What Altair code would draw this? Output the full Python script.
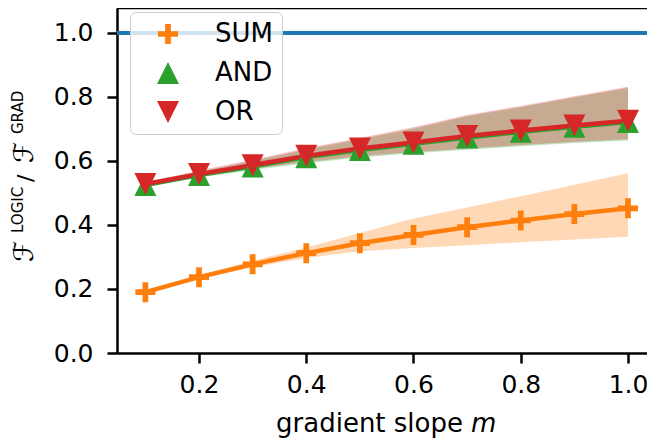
import altair as alt
import pandas as pd

# ---- data ----
x_vals = [0.1, 0.2, 0.3, 0.4, 0.5, 0.6, 0.7, 0.8, 0.9, 1.0]

sum_mean = [0.190, 0.237, 0.277, 0.312, 0.343, 0.369, 0.393, 0.414, 0.434, 0.452]
sum_lo   = [0.187, 0.232, 0.268, 0.297, 0.318, 0.328, 0.337, 0.346, 0.355, 0.363]
sum_hi   = [0.193, 0.243, 0.288, 0.330, 0.375, 0.420, 0.455, 0.490, 0.526, 0.562]

and_mean = [0.525, 0.556, 0.583, 0.612, 0.634, 0.654, 0.673, 0.691, 0.707, 0.722]
and_lo   = [0.521, 0.549, 0.572, 0.593, 0.611, 0.624, 0.635, 0.646, 0.656, 0.664]
and_hi   = [0.529, 0.566, 0.600, 0.636, 0.668, 0.701, 0.740, 0.768, 0.798, 0.828]

or_mean  = [0.528, 0.559, 0.587, 0.616, 0.639, 0.658, 0.678, 0.695, 0.711, 0.726]
or_lo    = [0.524, 0.552, 0.575, 0.597, 0.615, 0.628, 0.639, 0.650, 0.660, 0.668]
or_hi    = [0.533, 0.570, 0.604, 0.640, 0.672, 0.705, 0.744, 0.772, 0.802, 0.832]

reference_level = [1.0]

series_names = ["SUM", "AND", "OR"]
series_colors = ["#ff7f0e", "#2ca02c", "#d62728"]
x_ticks = [0.2, 0.4, 0.6, 0.8, 1.0]
y_ticks = [0.0, 0.2, 0.4, 0.6, 0.8, 1.0]

# shapes: plus, triangle up, triangle down (unit box -1..1)
PLUS = ("M-0.91,-0.26H0.91V0.26H-0.91Z "
        "M-0.26,-0.91H0.26V0.91H-0.26Z")
TRI_UP = "M0,-1L1,1L-1,1Z"
TRI_DOWN = "M0,1L1,-1L-1,-1Z"
series_shapes = [PLUS, TRI_UP, TRI_DOWN]

series_data = {
    "SUM": (sum_mean, sum_lo, sum_hi),
    "AND": (and_mean, and_lo, and_hi),
    "OR": (or_mean, or_lo, or_hi),
}

rows = []
for name in series_names:
    m, lo, hi = series_data[name]
    for xv, a, b, c in zip(x_vals, m, lo, hi):
        rows.append({"series": name, "x": xv, "mean": a, "lo": b, "hi": c})
df = pd.DataFrame(rows)

W, H = 530, 345
FONT = "DejaVu Sans"

xscale = alt.Scale(domain=[0.04709, 1.03543], nice=False, zero=False)
yscale = alt.Scale(domain=[0.0, 1.078], nice=False, zero=False)

axis_style = dict(
    grid=False, domainColor="black", domainWidth=2.5, tickColor="black",
    tickWidth=2.5, tickSize=10, labelColor="black", labelFontSize=25,
    labelFont=FONT, title=None, format=".1f",
)

x_enc = alt.X("x:Q", scale=xscale,
              axis=alt.Axis(values=x_ticks, labelPadding=9, **axis_style))
y_axis = alt.Axis(values=y_ticks, labelPadding=14, **axis_style)

layers = []

# horizontal reference line at 1.0
layers.append(
    alt.Chart(pd.DataFrame({"level": reference_level}))
    .mark_rule(color="#1f77b4", strokeWidth=4)
    .encode(y=alt.Y("level:Q", scale=yscale, axis=y_axis))
)

# bands and lines per series
for name, col in zip(series_names, series_colors):
    sub = df[df["series"] == name]
    layers.append(
        alt.Chart(sub).mark_area(color=col, opacity=0.3).encode(
            x=x_enc,
            y=alt.Y("lo:Q", scale=yscale, axis=y_axis),
            y2="hi:Q",
        )
    )
for name, col in zip(series_names, series_colors):
    sub = df[df["series"] == name]
    layers.append(
        alt.Chart(sub).mark_line(color=col, strokeWidth=4.5).encode(
            x=x_enc,
            y=alt.Y("mean:Q", scale=yscale, axis=y_axis),
        )
    )

legend = alt.Legend(
    title=None, orient="none", legendX=13, legendY=4,
    labelFontSize=26, labelFont=FONT, labelColor="black",
    symbolSize=484, symbolStrokeWidth=0, symbolOffset=16, labelOffset=34,
    padding=9, rowPadding=13, cornerRadius=6,
    fillColor="rgba(255,255,255,0.8)", strokeColor="#cccccc",
    zindex=2,
)

layers.append(
    alt.Chart(df).mark_point(filled=True, size=484, opacity=1).encode(
        x=x_enc,
        y=alt.Y("mean:Q", scale=yscale, axis=y_axis),
        color=alt.Color("series:N",
                        scale=alt.Scale(domain=series_names, range=series_colors),
                        legend=legend),
        shape=alt.Shape("series:N",
                        scale=alt.Scale(domain=series_names, range=series_shapes),
                        legend=legend),
    )
)

# top spine
layers.append(
    alt.Chart(pd.DataFrame({"k": [0]})).mark_rule(color="black", strokeWidth=2.5)
    .encode(x=alt.value(0), x2=alt.value(W), y=alt.value(0))
)

def txt(text, x, y, size, angle=0, style="normal", align="left"):
    return (
        alt.Chart(pd.DataFrame({"k": [0]}))
        .mark_text(fontSize=size, font=FONT, angle=angle, align=align,
                   baseline="alphabetic", color="black", fontStyle=style)
        .encode(x=alt.value(x), y=alt.value(y), text=alt.value(text))
    )

# x-axis title: "gradient slope m"
layers.append(txt("gradient slope", 346, 424, 26, align="right"))
layers.append(txt("m", 354, 424, 26, style="italic"))

# y-axis title: F^LOGIC / F^GRAD
layers.append(txt("ℱ", -84, 254, 27, angle=270))
layers.append(txt("LOGIC", -94, 225, 15, angle=270))
layers.append(txt("/", -84, 174, 22, angle=270))
layers.append(txt("ℱ", -84, 155, 27, angle=270))
layers.append(txt("GRAD", -94, 126, 15, angle=270))

chart = (
    alt.layer(*layers)
    .properties(
        width=W, height=H,
        autosize=alt.AutoSizeParams(type="none"),
        padding={"left": 109, "top": 0, "right": 0, "bottom": 85},
    )
    .configure_view(stroke=None)
    .configure_legend(strokeWidth=2)
    .configure(font=FONT)
)

chart.save("out.html", embed_options={"renderer": "svg", "actions": False})
